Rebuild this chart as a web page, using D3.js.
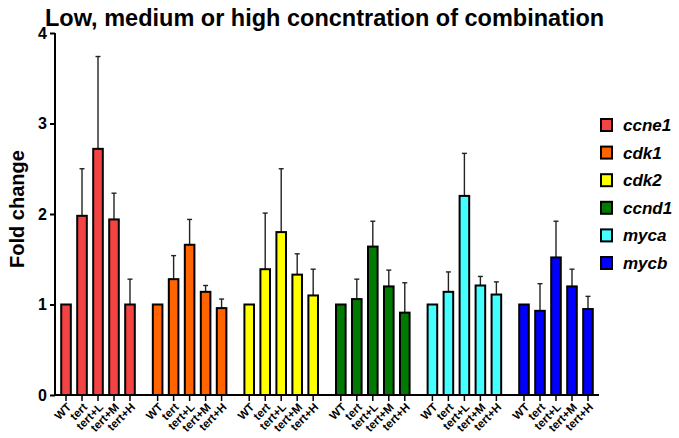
<!DOCTYPE html>
<html lang="en">
<head>
    <meta charset="UTF-8">
    <script src="https://cdn.jsdelivr.net/npm/d3@7"></script>
    <title>Fold change bar chart</title>
    <style>
        body {
            margin: 0;
            background: #fff;
            font-family: "Liberation Sans", Arial, sans-serif;
        }
        text {
            font-family: "Liberation Sans", Arial, sans-serif;
            font-weight: bold;
        }
    </style>
</head>
<body>
    <div id="chart"></div>

    <script>
        const width = 679;
        const height = 438;

        const genes = ["ccne1", "cdk1", "cdk2", "ccnd1", "myca", "mycb"];
        const conditions = ["WT", "tert", "tert+L", "tert+M", "tert+H"];
        const geneColors = ["#f44343", "#ff6400", "#ffff00", "#007a00", "#44ffff", "#0000ff"];

        // mean fold change per gene, in the order of conditions
        const ccne1Mean = [1.0, 1.98, 2.72, 1.94, 1.0];
        const cdk1Mean = [1.0, 1.28, 1.66, 1.14, 0.96];
        const cdk2Mean = [1.0, 1.39, 1.80, 1.33, 1.10];
        const ccnd1Mean = [1.0, 1.06, 1.64, 1.20, 0.91];
        const mycaMean = [1.0, 1.14, 2.20, 1.21, 1.11];
        const mycbMean = [1.0, 0.93, 1.52, 1.20, 0.95];

        // upper error bar lengths
        const ccne1Err = [0, 0.52, 1.02, 0.29, 0.28];
        const cdk1Err = [0, 0.26, 0.28, 0.07, 0.10];
        const cdk2Err = [0, 0.62, 0.70, 0.23, 0.29];
        const ccnd1Err = [0, 0.22, 0.28, 0.18, 0.33];
        const mycaErr = [0, 0.22, 0.47, 0.10, 0.14];
        const mycbErr = [0, 0.30, 0.40, 0.19, 0.14];

        const yTicks = [0, 1, 2, 3, 4];

        const means = [ccne1Mean, cdk1Mean, cdk2Mean, ccnd1Mean, mycaMean, mycbMean];
        const errs = [ccne1Err, cdk1Err, cdk2Err, ccnd1Err, mycaErr, mycbErr];

        const rows = [];
        genes.forEach((g, gi) => {
            conditions.forEach((c, ci) => {
                rows.push({ gene: g, cond: c, value: means[gi][ci], err: errs[gi][ci], color: geneColors[gi] });
            });
        });

        const svg = d3.select("#chart").append("svg")
            .attr("width", width)
            .attr("height", height);

        const x0 = d3.scaleBand().domain(genes).range([55, 599]).paddingInner(0.127).paddingOuter(0.033);
        const x1 = d3.scaleBand().domain(conditions).range([0, x0.bandwidth()]).paddingInner(0.4).paddingOuter(0.2);
        const y = d3.scaleLinear().domain([0, 4]).range([395, 33]);

        const barX = d => x0(d.gene) + x1(d.cond);
        const barMid = d => barX(d) + x1.bandwidth() / 2;

        // title
        svg.append("text")
            .attr("x", 45)
            .attr("y", 26)
            .attr("font-size", 23.5)
            .text("Low, medium or high concntration of combination");

        // error bars (behind bars)
        const eb = svg.append("g")
            .attr("stroke", "#222")
            .attr("stroke-width", 1.4)
            .selectAll("g")
            .data(rows.filter(d => d.err > 0))
            .enter().append("g");
        eb.append("line")
            .attr("x1", barMid).attr("x2", barMid)
            .attr("y1", d => y(d.value))
            .attr("y2", d => y(d.value + d.err));
        eb.append("line")
            .attr("x1", d => barMid(d) - 2.5).attr("x2", d => barMid(d) + 2.5)
            .attr("y1", d => y(d.value + d.err))
            .attr("y2", d => y(d.value + d.err));

        // bars
        svg.append("g").selectAll("rect")
            .data(rows)
            .enter().append("rect")
            .attr("x", barX)
            .attr("y", d => y(d.value))
            .attr("width", x1.bandwidth())
            .attr("height", d => y(0) - y(d.value))
            .attr("fill", d => d.color)
            .attr("stroke", "#000")
            .attr("stroke-width", 2);

        // y axis
        const yAxis = svg.append("g")
            .attr("transform", "translate(55,0)")
            .call(d3.axisLeft(y).tickValues(yTicks).tickFormat(d3.format("d")).tickSize(5).tickPadding(3));
        yAxis.select(".domain").attr("stroke-width", 2).attr("d", `M0,${y(4)}V${y(0)}`);
        yAxis.selectAll(".tick line").attr("stroke-width", 2);
        yAxis.selectAll(".tick text")
            .attr("font-size", 16)
            .attr("font-weight", "bold")
            .attr("font-family", "Liberation Sans, Arial, sans-serif")
            .attr("fill", "#000");

        // x axis
        const xAxis = svg.append("g").attr("transform", `translate(0,${y(0)})`);
        xAxis.append("line")
            .attr("x1", 55).attr("x2", 599)
            .attr("stroke", "#000").attr("stroke-width", 2);
        xAxis.selectAll(".xtick")
            .data(rows)
            .enter().append("line")
            .attr("x1", barMid).attr("x2", barMid)
            .attr("y1", 0).attr("y2", 6)
            .attr("stroke", "#000").attr("stroke-width", 1.5);
        xAxis.selectAll(".xlabel")
            .data(rows)
            .enter().append("text")
            .attr("transform", d => `translate(${barMid(d) + 3},${10}) rotate(-45)`)
            .attr("text-anchor", "end")
            .attr("dy", "0.35em")
            .attr("font-size", 11.5)
            .text(d => d.cond);

        // y label
        svg.append("text")
            .attr("transform", "translate(24,209) rotate(-90)")
            .attr("text-anchor", "middle")
            .attr("font-size", 20)
            .text("Fold change");

        // legend
        const legend = svg.append("g").selectAll("g")
            .data(genes)
            .enter().append("g")
            .attr("transform", (d, i) => `translate(600,${125 + i * 27.6})`);
        legend.append("rect")
            .attr("x", 1).attr("y", -6)
            .attr("width", 11).attr("height", 12)
            .attr("fill", (d, i) => geneColors[i])
            .attr("stroke", "#000")
            .attr("stroke-width", 2);
        legend.append("text")
            .attr("x", 23)
            .attr("y", 6)
            .attr("font-size", 17)
            .attr("font-style", "italic")
            .text(d => d);
    </script>
</body>
</html>
